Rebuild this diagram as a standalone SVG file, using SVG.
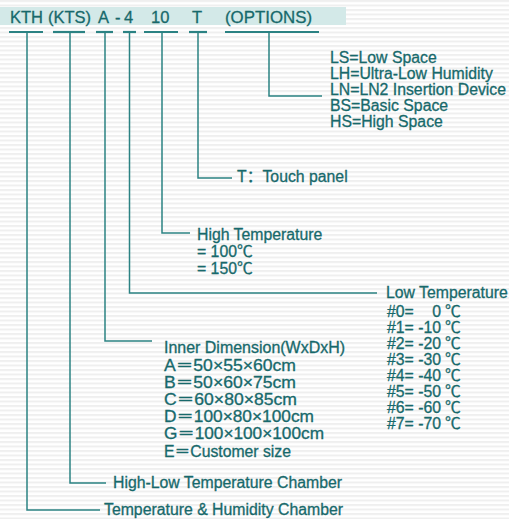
<svg xmlns="http://www.w3.org/2000/svg" width="509" height="519" viewBox="0 0 509 519">
<defs>
<pattern id="stripes" width="10" height="4.5" patternUnits="userSpaceOnUse">
<rect width="10" height="4.5" fill="#ffffff"/>
<rect y="0" width="10" height="2" fill="#efefef"/>
</pattern>
</defs>
<style>
text{font-family:"Liberation Sans",Arial,"Noto Sans CJK SC",sans-serif;fill:#17696b;font-size:15.8px;stroke:#17696b;stroke-width:0.3}
.hd{font-size:16.5px}
.ln{stroke:#2b8283;stroke-width:1.5;fill:none}
.ul{stroke:#2b8283;stroke-width:2.2}
</style>
<rect width="509" height="519" fill="url(#stripes)"/>
<rect x="0" y="7" width="346" height="18" fill="#d3e9e8"/>
<g id="header">
<text class="hd" x="10" y="23">KTH</text>
<text class="hd" x="48" y="23">(KTS)</text>
<text class="hd" x="98" y="23">A</text>
<text class="hd" x="115" y="23">-</text>
<text class="hd" x="124" y="23">4</text>
<text class="hd" x="151" y="23">10</text>
<text class="hd" x="192" y="23">T</text>
<text class="hd" x="225" y="23" textLength="87" lengthAdjust="spacingAndGlyphs">(OPTIONS)</text>
</g>
<g id="connectors">
<line class="ul" x1="9" y1="32" x2="43" y2="32"/>
<line class="ul" x1="53" y1="32" x2="85" y2="32"/>
<line class="ul" x1="96" y1="32" x2="113" y2="32"/>
<line class="ul" x1="123" y1="32" x2="136" y2="32"/>
<line class="ul" x1="144" y1="32" x2="178" y2="32"/>
<line class="ul" x1="189" y1="32" x2="207" y2="32"/>
<line class="ul" x1="225" y1="32" x2="319" y2="32"/>
<polyline class="ln" points="269,32 269,96 322,96"/>
<polyline class="ln" points="198,32 198,178 232,178"/>
<polyline class="ln" points="162,32 162,233 190,233"/>
<polyline class="ln" points="129.5,32 129.5,293 377,293"/>
<polyline class="ln" points="105,32 105,341 152,341"/>
<polyline class="ln" points="70,32 70,483 106,483"/>
<polyline class="ln" points="27,32 27,510 100,510"/>
</g>
<g id="options">
<text x="330" y="63">LS=Low Space</text>
<text x="330" y="79">LH=Ultra-Low Humidity</text>
<text x="330" y="95">LN=LN2 Insertion Device</text>
<text x="330" y="111">BS=Basic Space</text>
<text x="330" y="127">HS=High Space</text>
</g>
<g id="touch-panel">
<text x="237" y="182">T：Touch panel</text>
</g>
<g id="high-temperature">
<text x="197" y="240">High Temperature</text>
<text x="197" y="257">= 100℃</text>
<text x="197" y="274">= 150℃</text>
</g>
<g id="low-temperature">
<text x="386" y="298">Low Temperature</text>
<text x="387" y="317">#0=</text><text x="441" y="317" text-anchor="end">0</text><text x="445" y="317">℃</text>
<text x="387" y="333">#1=</text><text x="441" y="333" text-anchor="end">-10</text><text x="445" y="333">℃</text>
<text x="387" y="349">#2=</text><text x="441" y="349" text-anchor="end">-20</text><text x="445" y="349">℃</text>
<text x="387" y="365">#3=</text><text x="441" y="365" text-anchor="end">-30</text><text x="445" y="365">℃</text>
<text x="387" y="381">#4=</text><text x="441" y="381" text-anchor="end">-40</text><text x="445" y="381">℃</text>
<text x="387" y="397">#5=</text><text x="441" y="397" text-anchor="end">-50</text><text x="445" y="397">℃</text>
<text x="387" y="413">#6=</text><text x="441" y="413" text-anchor="end">-60</text><text x="445" y="413">℃</text>
<text x="387" y="429">#7=</text><text x="441" y="429" text-anchor="end">-70</text><text x="445" y="429">℃</text>
</g>
<g id="inner-dimension">
<text x="164" y="353" textLength="181" lengthAdjust="spacingAndGlyphs">Inner Dimension(WxDxH)</text>
<text x="164" y="371" textLength="132" lengthAdjust="spacingAndGlyphs">A＝50×55×60cm</text>
<text x="164" y="388" textLength="132" lengthAdjust="spacingAndGlyphs">B＝50×60×75cm</text>
<text x="164" y="405" textLength="133" lengthAdjust="spacingAndGlyphs">C＝60×80×85cm</text>
<text x="164" y="422" textLength="150" lengthAdjust="spacingAndGlyphs">D＝100×80×100cm</text>
<text x="164" y="439" textLength="160" lengthAdjust="spacingAndGlyphs">G＝100×100×100cm</text>
<text x="164" y="457" textLength="127" lengthAdjust="spacingAndGlyphs">E＝Customer size</text>
</g>
<g id="high-low-chamber">
<text x="113" y="488" textLength="229" lengthAdjust="spacingAndGlyphs">High-Low Temperature Chamber</text>
</g>
<g id="temp-humidity-chamber">
<text x="104" y="515" textLength="239" lengthAdjust="spacingAndGlyphs">Temperature &amp; Humidity Chamber</text>
</g>
</svg>
